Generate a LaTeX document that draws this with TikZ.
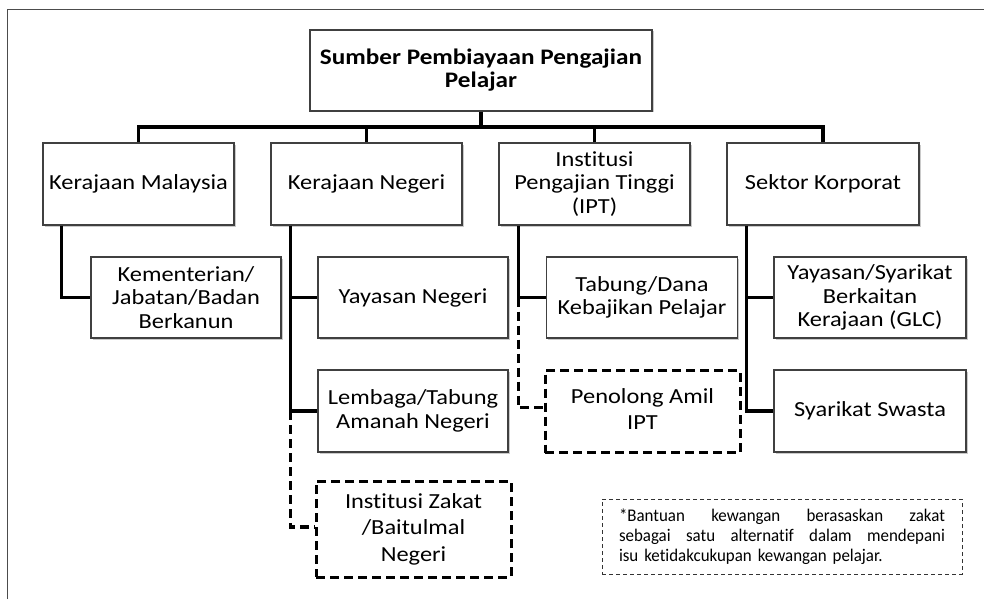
\documentclass[tikz,border=0pt]{standalone}
\usepackage{fontspec}
\setmainfont[FakeStretch=1.135,Ligatures=NoCommon]{Carlito}
\newfontfamily\notefont[FakeStretch=0.95,Ligatures=NoCommon]{Carlito}
\usetikzlibrary{shadows}
\begin{document}
\begin{tikzpicture}[x=1pt,y=-1pt,
  box/.style={draw=black!75, line width=1.1pt, fill=white, align=center, inner sep=0pt,
    drop shadow={shadow xshift=1.5pt, shadow yshift=-1.5pt, opacity=0.35, fill=black!60},
    font=\fontsize{21.5}{23.5}\selectfont},
  dbox/.style={draw=black, line width=3pt, dash pattern=on 9pt off 5pt, fill=white, align=center, inner sep=0pt,
    font=\fontsize{21.5}{26.5}\selectfont},
  conn/.style={draw=black, line width=3.2pt},
  dconn/.style={draw=black, line width=3.2pt, dash pattern=on 9pt off 5pt},
  frame/.style={draw=black!70, line width=0.9pt},
  notebox/.style={draw=black!80, line width=0.8pt, dash pattern=on 4pt off 3pt, inner sep=0pt, align=left,
    font=\notefont\fontsize{17.8}{20}\selectfont}
]
\useasboundingbox (0,0) rectangle (984,599);
% frame
\coordinate (fTL) at (7,9);
\coordinate (fTR) at (984,9);
\coordinate (fBL) at (7,599);
\draw[frame] (fBL) -- (fTL) -- (fTR);

% title
\node[box, minimum width=342pt, minimum height=81pt, font=\fontsize{22.2}{23}\selectfont\bfseries] (title) at (481,70.5) {Sumber Pembiayaan Pengajian\\Pelajar};

% level 1
\node[box, minimum width=191pt, minimum height=82pt] (km) at (138.5,184) {Kerajaan Malaysia};
\node[box, minimum width=191pt, minimum height=82pt] (nk) at (366.5,184) {Kerajaan Negeri};
\node[box, minimum width=191pt, minimum height=82pt] (ipt) at (594.5,184) {Institusi\\Pengajian Tinggi\\(IPT)};
\node[box, minimum width=192pt, minimum height=82pt] (sk) at (823,184) {Sektor Korporat};

% level 2
\node[box, minimum width=190pt, minimum height=81pt] (kem) at (186,297.5) {Kementerian/\\Jabatan/Badan\\Berkanun};
\node[box, minimum width=190pt, minimum height=81pt] (yn) at (413,297.5) {Yayasan Negeri};
\node[box, minimum width=190pt, minimum height=82pt] (ltan) at (413,411) {Lembaga/Tabung\\Amanah Negeri};
\node[dbox, minimum width=195pt, minimum height=96pt] (iz) at (413.5,529) {Institusi Zakat\\/Baitulmal\\Negeri};
\node[box, minimum width=191pt, minimum height=81pt] (tdk) at (642,297.5) {Tabung/Dana\\Kebajikan Pelajar};
\node[dbox, minimum width=195pt, minimum height=82pt] (pa) at (642.5,411.5) {\raisebox{5pt}{\shortstack{Penolong Amil\\[5pt]IPT}}};
\node[box, minimum width=192pt, minimum height=81pt] (ys) at (870,297.5) {Yayasan/Syarikat\\Berkaitan\\Kerajaan (GLC)};
\node[box, minimum width=192pt, minimum height=82pt] (ss) at (870,411) {Syarikat Swasta};

% note
\node[notebox, minimum width=360pt, minimum height=75pt, text width=326pt] (note) at (782,536.5)
 {\makebox[326pt][l]{*Bantuan\hfill kewangan\hfill berasaskan\hfill zakat}\\
  \makebox[326pt][l]{sebagai\hfill satu\hfill alternatif\hfill dalam\hfill mendepani}\\
  isu ketidakcukupan kewangan pelajar.};

% top connectors
\coordinate (bar) at (481,127);
\draw[conn] (title.south) -- (bar);
\draw[conn] (km.north) -- (km.north |- bar) -- (sk.north |- bar) -- (sk.north);
\draw[conn] (nk.north) -- (nk.north |- bar);
\draw[conn] (ipt.north) -- (ipt.north |- bar);

% child connectors
\coordinate (kmL) at ([xshift=19pt]km.south west);
\coordinate (nkL) at ([xshift=20pt]nk.south west);
\coordinate (iptL) at ([xshift=20pt]ipt.south west);
\coordinate (skL) at ([xshift=20pt]sk.south west);

\draw[conn] (kmL) |- (kem.west);
\draw[conn] (nkL) |- (yn.west);
\draw[conn] (nkL) |- (ltan.west);
\draw[dconn] (nkL |- ltan.west) |- ([yshift=2pt]iz.west);
\draw[conn] (iptL) |- (tdk.west);
\draw[dconn] (iptL |- tdk.west) |- ([yshift=4pt]pa.west);
\draw[conn] (skL) |- (ys.west);
\draw[conn] (skL) |- (ss.west);
\end{tikzpicture}
\end{document}
